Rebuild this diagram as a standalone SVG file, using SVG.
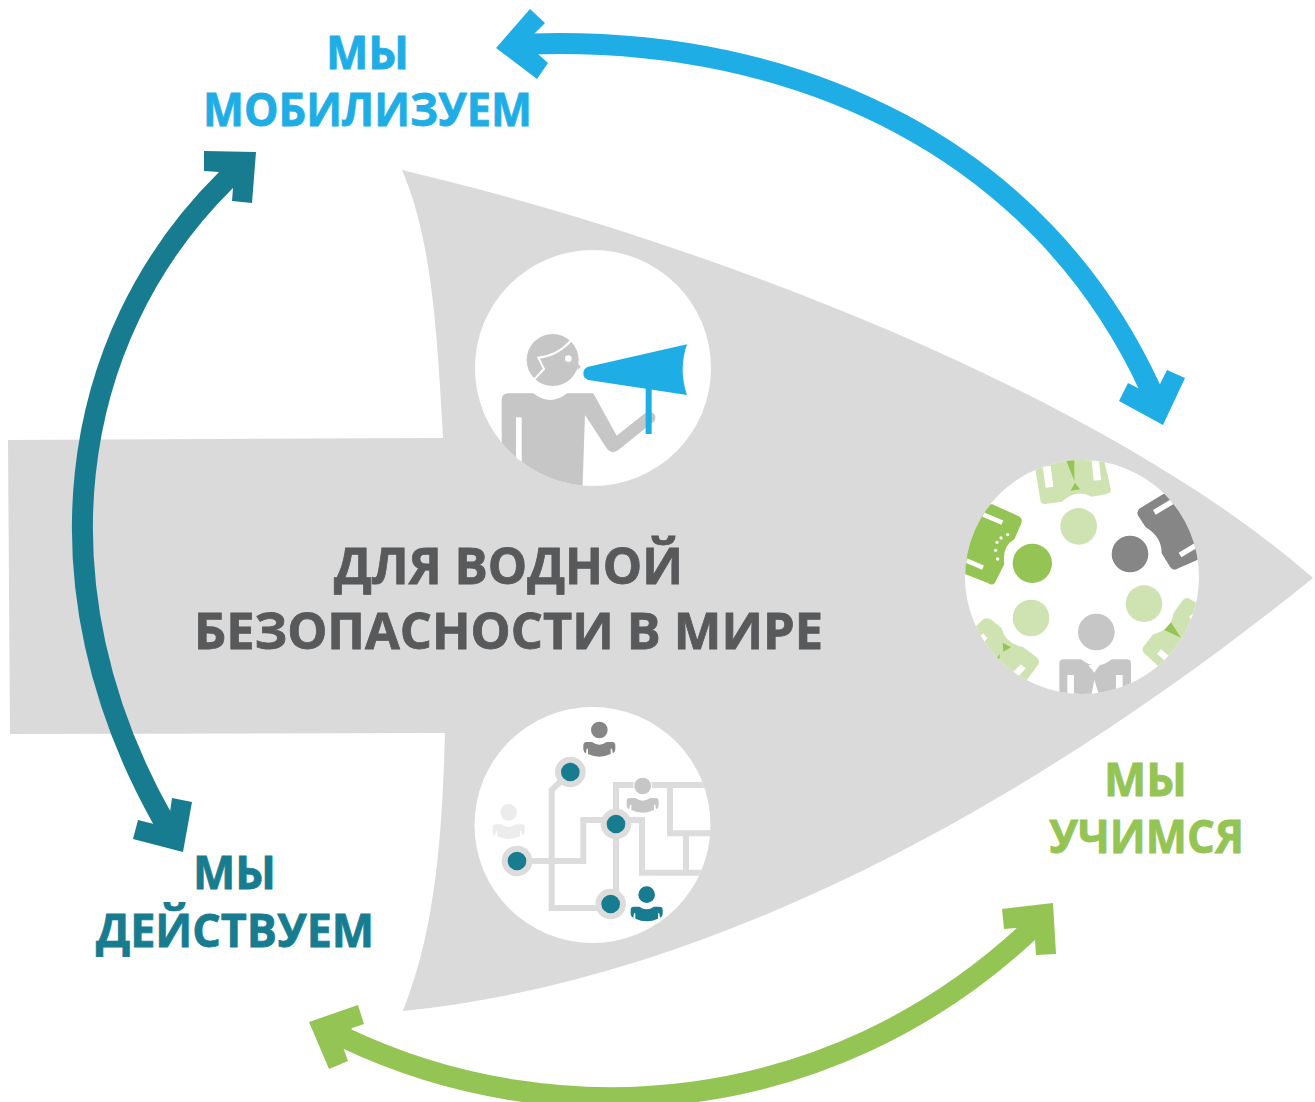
<svg xmlns="http://www.w3.org/2000/svg" xmlns:xlink="http://www.w3.org/1999/xlink" width="1315" height="1102" viewBox="0 0 1315 1102">
<style>
.t{font-family:"Open Sans","Noto Sans","Liberation Sans",sans-serif;font-weight:700;text-anchor:start;stroke-width:.8}
.sh{fill:none;stroke-width:21}
.blue{fill:#1fade5}.teal{fill:#177c8f}.green{fill:#94c454}
.g1{fill:#c6c6c6}.g2{fill:#868686}.lg{fill:#cfe2b1}
.w{fill:#fff}.wl{stroke:#fff;fill:none}
.net{fill:none;stroke:#dcdcdc;stroke-width:18}
.nr{fill:#177c8f;stroke:#dcdcdc;stroke-width:18}
</style>
<defs>
<clipPath id="c1"><circle cx="593" cy="368" r="118"/></clipPath>
<clipPath id="c2"><circle cx="1082" cy="577" r="117"/></clipPath>
<clipPath id="c3"><circle cx="592.5" cy="825" r="118"/></clipPath>
<g id="pers"><circle cx="0" cy="0" r="25"/><path d="M-48 46Q-48 36-38 36L-22 36Q0 52 22 36L38 36Q48 36 48 46L48 58Q48 66 40 70L38 56L34 56L34 72Q0 88-34 72L-34 56L-38 56L-40 70Q-48 66-48 58Z"/></g>
</defs>
<rect width="1315" height="1102" fill="#fff"/>
<g id="arrow-body"><path fill="#dadada" d="M402 170C720 245 1110 400 1313 578C1100 750 760 975 403 1011C435 930 442 840 445 733L10 734L8 440L443 438C437 330 432 240 402 170Z"/></g>
<g id="node-mobilize">
<circle class="w" cx="593" cy="368" r="118"/>
<g clip-path="url(#c1)"><g transform="translate(470 245) scale(.33333)">
<circle class="g1" cx="248" cy="345" r="78"/><path class="g1" d="M322 355L332 365L322 376Z"/>
<path class="wl" stroke-width="6" d="M192 404L222 372L205 338Q262 332 302 288"/>
<circle class="w" cx="295" cy="341" r="10"/>
<path class="g1" d="M95 465Q95 445 115 445L190 445Q240 485 292 445L370 445L440 572L525 505Q545 495 555 510Q560 525 545 535L445 615Q425 630 410 610L345 510L338 715L338 730L95 730Z"/>
<rect class="w" x="138" y="517" width="17" height="150"/>
<path class="blue" d="M340 385Q340 370 355 365L651 298Q625 375 651 450L355 405Q340 400 340 385Z"/>
<rect class="blue" x="527" y="425" width="18" height="142"/>
</g></g>
</g>
<g id="node-learn">
<circle class="w" cx="1082" cy="577" r="117"/>
<g clip-path="url(#c2)"><g transform="translate(955 450) scale(.33333)">
<circle class="lg" cx="371" cy="229" r="55"/><circle class="lg" cx="228" cy="504" r="55"/><circle class="lg" cx="567" cy="461" r="55"/>
<circle class="green" cx="232" cy="340" r="59"/><circle class="g2" cx="525" cy="312" r="55"/><circle class="g1" cx="424" cy="546" r="55"/>
<path class="lg" d="M240 50L256 150Q258 164 272 162L320 155Q365 115 410 140L455 132Q470 128 467 115L445 20L240 20Z"/>
<path class="w" d="M263 50L287 47L295 110L272 113ZM410 32L432 30L438 90L416 92Z"/>
<path class="green" d="M333 30L358 30L358 92ZM347 122L360 98L375 118Z"/>
<path class="green" d="M112 163L190 198Q205 205 198 222L178 268Q140 290 148 342L120 398Q112 408 100 400L20 368L20 160Z"/>
<path class="wl" stroke-width="14" d="M85 194L142 218M35 332L84 353"/>
<g class="w"><circle cx="158" cy="254" r="5"/><circle cx="138" cy="264" r="5"/><circle cx="126" cy="277" r="5"/><circle cx="122" cy="301" r="5"/><circle cx="128" cy="327" r="5"/></g>
<path class="g2" d="M625 132L555 175Q542 185 550 198L572 232Q620 260 620 310L645 350Q655 365 670 355L750 320L750 132Z"/>
<path class="wl" stroke-width="16" d="M598 187L652 155M675 315L725 285"/>
<path class="g1" d="M313 640Q313 628 325 628L378 628Q425 665 470 628L515 628Q528 628 528 640L528 745L313 745Z"/>
<path class="w" d="M337 675H357V740H337ZM483 675H503V740H483ZM400 645H434L418 668ZM418 690L408 740H434Z"/>
<path class="lg" d="M62 530L82 510Q95 500 110 510L140 535Q150 580 205 592L245 622Q260 635 245 650L200 710L100 710Z"/>
<path class="w" d="M75 560L85 550L97 565L88 575ZM175 665L197 643L212 655L190 680Z"/>
<path class="green" d="M143 578L168 592L145 605ZM125 625L135 612L133 628Z"/>
<path class="lg" d="M735 465L705 447Q692 438 680 455L655 490Q650 540 595 553L565 590Q558 602 570 612L612 650L750 560Z"/>
<path class="w" d="M618 598L642 618L630 632L606 612ZM702 500L720 485L725 505L712 512Z"/>
<path class="green" d="M648 517L678 563L628 540Z"/>
</g></g>
</g>
<g id="node-act">
<circle class="w" cx="592.5" cy="825" r="118"/>
<g clip-path="url(#c3)"><g transform="translate(470 700) scale(.33333)">
<path class="net" d="M301 216L245 270V624H422M141 483H340V360H516V518H700M438 612V255H730M600 255V400H730M648 400V518"/>
<use xlink:href="#pers" href="#pers" transform="translate(388 90)" fill="#868686"/>
<use xlink:href="#pers" href="#pers" transform="translate(518 258)" fill="#c6c6c6" stroke="#fff" stroke-width="6" paint-order="stroke"/>
<use xlink:href="#pers" href="#pers" transform="translate(116 337)" fill="#ececec"/>
<use xlink:href="#pers" href="#pers" transform="translate(530 584)" fill="#177c8f"/>
<circle class="nr" cx="301" cy="216" r="37"/><circle class="nr" cx="438" cy="372" r="37"/><circle class="nr" cx="141" cy="483" r="37"/><circle class="nr" cx="422" cy="612" r="37"/>
</g></g>
</g>
<g id="connectors">
<g id="conn-blue"><path class="sh" stroke="#1fade5" d="M515 44L530 44C800 35 1040 150 1150 388L1158 405"/><path class="blue" d="M496 48L530 9L545 23L534 34L538 54L548 63L537 79Z"/><path class="blue" d="M1163 425L1185 378L1167 370L1160 384L1140 389L1128 383L1119 401Z"/></g>
<g id="conn-teal"><path class="sh" stroke="#177c8f" d="M240 166L226 180C64 340 34 590 162 818L172 835"/><path class="teal" d="M204 151L256 152L252 203L232 201L233 188L219 172L204 171Z"/><path class="teal" d="M183 852L192 802L172 798L170 812L154 824L138 820L133 839Z"/></g>
<g id="conn-green"><path class="sh" stroke="#94c454" d="M330 1031L345 1038C560 1140 830 1115 1026 934L1040 920"/><path class="green" d="M1053 903L1056 954L1036 955L1035 939L1016 928L1004 929L1002 909Z"/><path class="green" d="M309 1022L358 1005L364 1024L352 1028L343 1047L348 1061L329 1069Z"/></g>
</g>
<g id="label-center" fill="#58595b" stroke="#58595b">
<text class="t" x="334" y="584" font-size="50" textLength="349" lengthAdjust="spacingAndGlyphs">ДЛЯ ВОДНОЙ</text>
<text class="t" x="194" y="649" font-size="50" textLength="629" lengthAdjust="spacingAndGlyphs">БЕЗОПАСНОСТИ В МИРЕ</text>
</g>
<g id="label-mobilize" fill="#1fade5" stroke="#1fade5">
<text class="t" x="326" y="69" font-size="46" textLength="83" lengthAdjust="spacingAndGlyphs">МЫ</text>
<text class="t" x="203" y="126" font-size="46" textLength="329" lengthAdjust="spacingAndGlyphs">МОБИЛИЗУЕМ</text>
</g>
<g id="label-act" fill="#177c8f" stroke="#177c8f">
<text class="t" x="193" y="889" font-size="46" textLength="83" lengthAdjust="spacingAndGlyphs">МЫ</text>
<text class="t" x="96" y="947" font-size="46" textLength="278" lengthAdjust="spacingAndGlyphs">ДЕЙСТВУЕМ</text>
</g>
<g id="label-learn" fill="#94c454" stroke="#94c454">
<text class="t" x="1104" y="796" font-size="46" textLength="83" lengthAdjust="spacingAndGlyphs">МЫ</text>
<text class="t" x="1049" y="853" font-size="46" textLength="195" lengthAdjust="spacingAndGlyphs">УЧИМСЯ</text>
</g>
</svg>
